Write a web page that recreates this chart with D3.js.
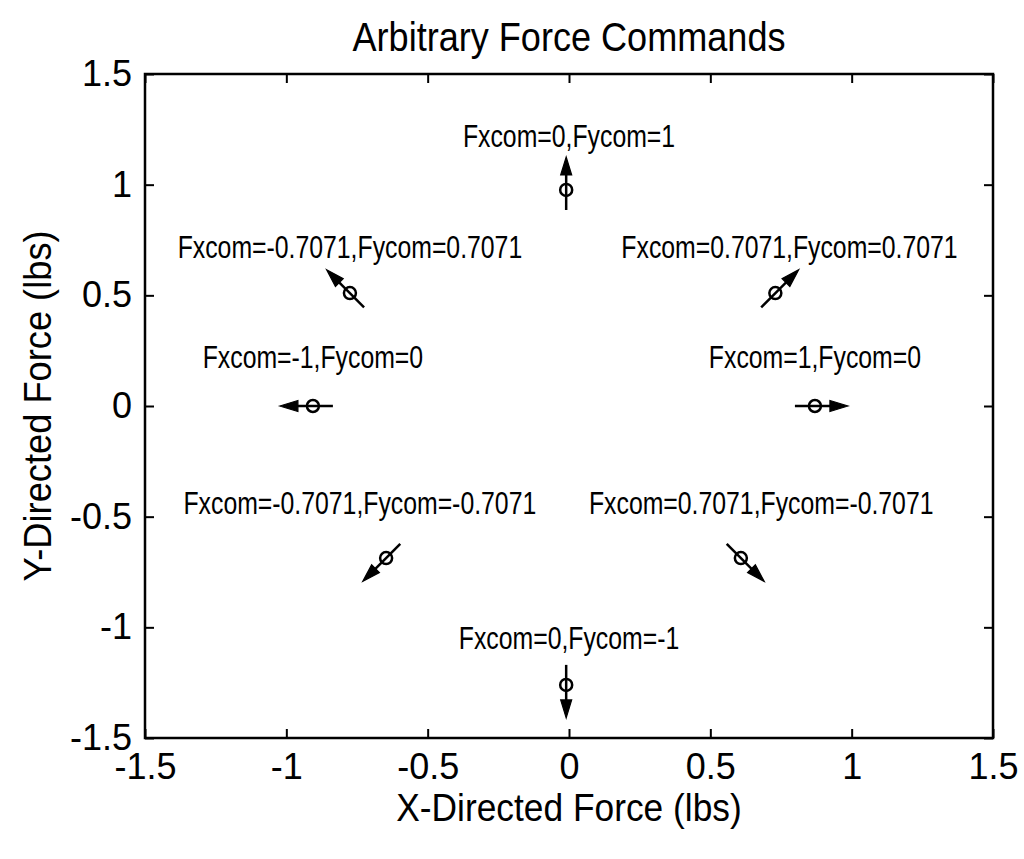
<!DOCTYPE html>
<html>
<head>
<meta charset="utf-8">
<script src="https://cdn.jsdelivr.net/npm/d3@7"></script>
<style>
  html, body { margin: 0; padding: 0; background: #fff; }
  svg { display: block; }
  text { fill: #000; }
</style>
</head>
<body>
<svg id="chart" width="1024" height="859"></svg>
<script>
// ---- data ----
const titleText = "Arbitrary Force Commands";
const xLabelText = "X-Directed Force (lbs)";
const yLabelText = "Y-Directed Force (lbs)";
const xTicks = [-1.5, -1, -0.5, 0, 0.5, 1, 1.5];
const yTicks = [-1.5, -1, -0.5, 0, 0.5, 1, 1.5];
const tickLabels = ["-1.5", "-1", "-0.5", "0", "0.5", "1", "1.5"];

// commanded force components
const fxcom = [0, -0.7071, 0.7071, -1, 1, -0.7071, 0.7071, 0];
const fycom = [1, 0.7071, 0.7071, 0, 0, -0.7071, -0.7071, -1];
// measured positions (circles)
const posX = [-0.01, -0.775, 0.73, -0.906, 0.87, -0.647, 0.608, -0.01];
const posY = [0.976, 0.51, 0.51, 0.0, 0.0, -0.687, -0.687, -1.26];
// annotation labels and their anchor points
const labels = ["Fxcom=0,Fycom=1", "Fxcom=-0.7071,Fycom=0.7071", "Fxcom=0.7071,Fycom=0.7071",
  "Fxcom=-1,Fycom=0", "Fxcom=1,Fycom=0", "Fxcom=-0.7071,Fycom=-0.7071",
  "Fxcom=0.7071,Fycom=-0.7071", "Fxcom=0,Fycom=-1"];
const labelX = [0.0, -0.775, 0.78, -0.906, 0.87, -0.74, 0.68, 0.0];
const labelY = [1.17, 0.67, 0.67, 0.17, 0.17, -0.49, -0.49, -1.1];

// ---- layout ----
const mLeft = 145, mTop = 74, mRight = 993, mBottom = 738;
const svg = d3.select("#chart");
const x = d3.scaleLinear().domain([-1.5, 1.5]).range([mLeft, mRight]);
const y = d3.scaleLinear().domain([-1.5, 1.5]).range([mBottom, mTop]);

const mainFont = "'Liberation Sans', Arial, Helvetica, sans-serif";

const fmt = d => tickLabels[xTicks.indexOf(d)];
const tickLen = 9;

// axes (inward ticks on all four sides)
const gB = svg.append("g").attr("transform", `translate(0,${mBottom})`)
  .call(d3.axisBottom(x).tickValues(xTicks).tickFormat(fmt).tickSizeInner(-tickLen).tickSizeOuter(0).tickPadding(15));
const gT = svg.append("g").attr("transform", `translate(0,${mTop})`)
  .call(d3.axisTop(x).tickValues(xTicks).tickFormat("").tickSizeInner(-tickLen).tickSizeOuter(0));
const gL = svg.append("g").attr("transform", `translate(${mLeft},0)`)
  .call(d3.axisLeft(y).tickValues(yTicks).tickFormat(fmt).tickSizeInner(-tickLen).tickSizeOuter(0).tickPadding(13));
const gR = svg.append("g").attr("transform", `translate(${mRight},0)`)
  .call(d3.axisRight(y).tickValues(yTicks).tickFormat("").tickSizeInner(-tickLen).tickSizeOuter(0));

[gB, gT, gL, gR].forEach(g => {
  g.select(".domain").remove();
  g.selectAll(".tick line").attr("stroke", "#000").attr("stroke-width", 2);
  g.selectAll(".tick text").attr("font-family", mainFont).attr("font-size", 36).attr("fill", "#000");
});
gB.selectAll(".tick text").attr("dy", "0.71em");

// frame
svg.append("rect").attr("x", mLeft).attr("y", mTop).attr("width", mRight - mLeft).attr("height", mBottom - mTop)
  .attr("fill", "none").attr("stroke", "#000").attr("stroke-width", 2.5);

// title and axis labels (slightly condensed)
const cx0 = (mLeft + mRight) / 2, cy0 = (mTop + mBottom) / 2;
svg.append("text").attr("transform", `translate(${cx0},51) scale(0.88,1)`).attr("text-anchor", "middle")
  .attr("font-family", mainFont).attr("font-size", 41).text(titleText);
svg.append("text").attr("transform", `translate(${cx0},821) scale(0.93,1)`).attr("text-anchor", "middle")
  .attr("font-family", mainFont).attr("font-size", 38).text(xLabelText);
svg.append("text").attr("transform", `translate(51,${cy0}) rotate(-90) scale(0.93,1)`).attr("text-anchor", "middle")
  .attr("font-family", mainFont).attr("font-size", 39).text(yLabelText);

// arrows and circles
const tailLen = 20, tipLen = 33, headLen = 18, headHalf = 5.5;
const gA = svg.append("g");
fxcom.forEach((fx, i) => {
  const cx = x(posX[i]), cy = y(posY[i]);
  const dx = fx, dy = -fycom[i];
  const n = Math.hypot(dx, dy);
  const ux = dx / n, uy = dy / n;
  const px = -uy, py = ux;
  const tx = cx + ux * tipLen, ty = cy + uy * tipLen;
  const bx = tx - ux * headLen, by = ty - uy * headLen;
  gA.append("line")
    .attr("x1", cx - ux * tailLen).attr("y1", cy - uy * tailLen)
    .attr("x2", bx + ux * 2).attr("y2", by + uy * 2)
    .attr("stroke", "#000").attr("stroke-width", 2.5);
  gA.append("path")
    .attr("d", `M${tx},${ty}L${bx + px * headHalf},${by + py * headHalf}L${bx - px * headHalf},${by - py * headHalf}Z`)
    .attr("fill", "#000").attr("stroke", "#000").attr("stroke-width", 1.2).attr("stroke-linejoin", "miter");
  gA.append("circle").attr("cx", cx).attr("cy", cy).attr("r", 6)
    .attr("fill", "none").attr("stroke", "#000").attr("stroke-width", 2.5);
});

// annotations (condensed type, like the reference)
svg.append("g").selectAll("text").data(labels).join("text")
  .attr("transform", (d, i) => `translate(${x(labelX[i])},${y(labelY[i])}) scale(0.8,1)`)
  .attr("text-anchor", "middle")
  .attr("font-family", mainFont).attr("font-size", 31)
  .text(d => d);
</script>
</body>
</html>
